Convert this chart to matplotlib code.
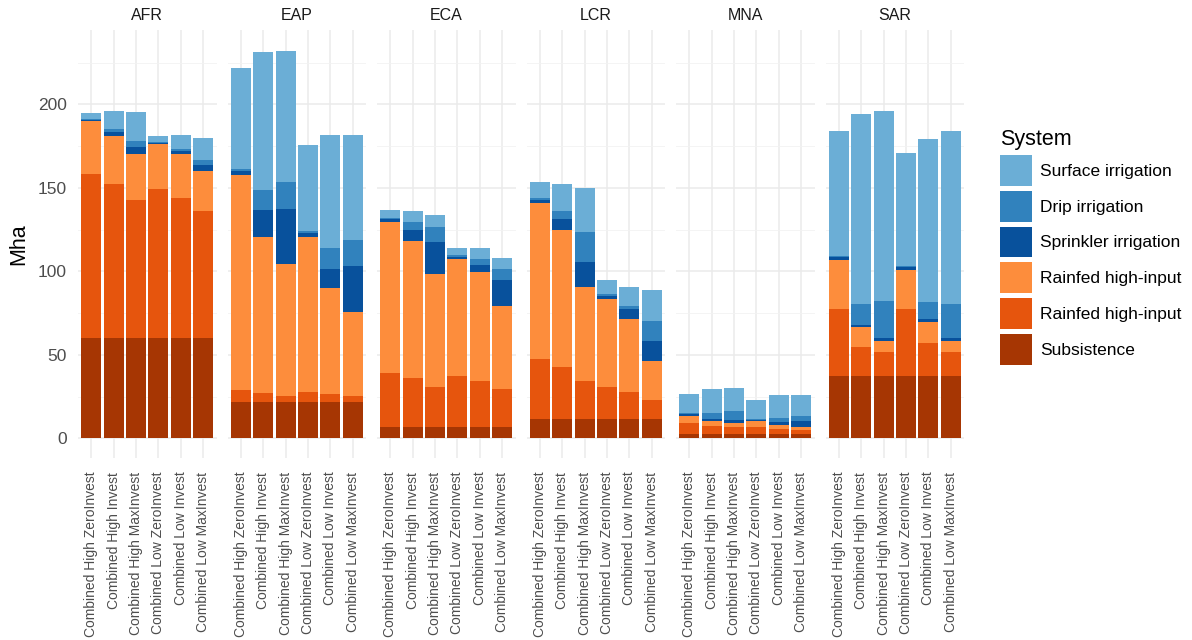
import matplotlib.pyplot as plt
from matplotlib.patches import Patch
from matplotlib.ticker import MultipleLocator
import numpy as np

plt.rcParams['font.family'] = ['Liberation Sans', 'DejaVu Sans']

regions = ['AFR', 'EAP', 'ECA', 'LCR', 'MNA', 'SAR']
scenarios = ['Combined High ZeroInvest', 'Combined High Invest', 'Combined High MaxInvest',
             'Combined Low ZeroInvest', 'Combined Low Invest', 'Combined Low MaxInvest']

# Mha per region (6 scenarios each), stacked bottom -> top
subsistence = {
    'AFR': [60, 60, 60, 60, 60, 60],
    'EAP': [21.8, 21.8, 21.8, 21.8, 21.8, 21.8],
    'ECA': [7, 7, 7, 7, 7, 7],
    'LCR': [11.8, 11.8, 11.8, 11.8, 11.8, 11.8],
    'MNA': [2.4, 2.4, 2.4, 2.4, 2.4, 2.4],
    'SAR': [37.3, 37.3, 37.3, 37.3, 37.3, 37.3],
}
rainfed_dark = {
    'AFR': [98, 92, 82.5, 89, 83.7, 76.3],
    'EAP': [7.3, 5.3, 3.5, 5.7, 4.7, 3.5],
    'ECA': [32.3, 28.9, 23.7, 30.1, 27.5, 22.5],
    'LCR': [35.7, 31.1, 22.7, 18.7, 16.1, 11],
    'MNA': [6.6, 5, 4.6, 4.2, 3, 2.6],
    'SAR': [40.3, 17.6, 14.4, 39.9, 20, 14.4],
}
rainfed_light = {
    'AFR': [32, 29, 27.5, 27, 26.8, 23.7],
    'EAP': [128.4, 93.3, 79.3, 93.1, 63.5, 50.5],
    'ECA': [90.2, 82.3, 67.5, 70.3, 65.1, 49.9],
    'LCR': [93.6, 81.9, 56.3, 53.1, 43.4, 23.7],
    'MNA': [4.4, 3.2, 2.4, 3.6, 2.4, 2],
    'SAR': [29.2, 11.6, 6.8, 23.4, 12.6, 6.8],
}
sprinkler = {
    'AFR': [0.6, 2.4, 4.6, 0.8, 1.6, 3.8],
    'EAP': [2.8, 16.4, 32.7, 2.2, 11.4, 27.3],
    'ECA': [1.8, 6.8, 19.4, 1.4, 4.2, 15.4],
    'LCR': [1.6, 6.6, 15, 1.8, 6, 11.8],
    'MNA': [1.4, 1.2, 1.6, 1, 2, 3.6],
    'SAR': [1.6, 1.6, 1.4, 1.8, 1.6, 1.8],
}
drip = {
    'AFR': [0.4, 1.6, 3.2, 0.6, 1, 2.8],
    'EAP': [1.2, 11.6, 16, 1.4, 12.6, 15.6],
    'ECA': [0.8, 4.6, 9.2, 0.8, 3.8, 6.6],
    'LCR': [1, 4.6, 18, 1, 2.2, 12.2],
    'MNA': [0.6, 3.6, 5.6, 0.6, 2.6, 2.8],
    'SAR': [0.8, 12.3, 22.4, 0.6, 10.2, 20.2],
}
surface = {
    'AFR': [3.5, 11, 17.6, 3.4, 8.3, 13.5],
    'EAP': [60.3, 82.7, 78.8, 51.4, 67.8, 63.1],
    'ECA': [4.4, 6.7, 6.9, 4.2, 6.2, 6.8],
    'LCR': [9.6, 16.3, 26.3, 8.2, 11.1, 18.3],
    'MNA': [11.1, 14.1, 13.5, 11, 13.3, 12.3],
    'SAR': [75, 113.8, 113.9, 67.7, 97.5, 103.7],
}

layers = [
    (subsistence, 'Subsistence', '#A63603'),
    (rainfed_dark, 'Rainfed high-input', '#E6550D'),
    (rainfed_light, 'Rainfed high-input', '#FD8D3C'),
    (sprinkler, 'Sprinkler irrigation', '#08519C'),
    (drip, 'Drip irrigation', '#3182BD'),
    (surface, 'Surface irrigation', '#6BAED6'),
]

W, H = 1192, 640
fig = plt.figure(figsize=(W / 100, H / 100), dpi=100)

panel_left = 78
panel_w = 138.5
panel_gap = 11
panel_top = 29.7
panel_bottom = 457.8

grid_major = '#EBEBEB'
x = np.arange(1, len(scenarios) + 1)

for i, reg in enumerate(regions):
    left = panel_left + i * (panel_w + panel_gap)
    ax = fig.add_axes([left / W, 1 - panel_bottom / H, panel_w / W, (panel_bottom - panel_top) / H])
    bottom = np.zeros(len(scenarios))
    for data, label, color in layers:
        vals = np.array(data[reg])
        ax.bar(x, vals, width=0.9, bottom=bottom, color=color, linewidth=0, zorder=3)
        bottom += vals

    ax.set_xlim(0.4, 6.6)
    ax.set_ylim(-11.65, 244.65)
    ax.yaxis.set_major_locator(MultipleLocator(50))
    ax.yaxis.set_minor_locator(MultipleLocator(25))
    ax.set_xticks(x)
    ax.set_xticklabels(scenarios, rotation=90, fontsize=10, color='#4D4D4D')
    ax.grid(True, which='major', color=grid_major, linewidth=1.1, zorder=0)
    ax.grid(True, which='minor', axis='y', color='#F2F2F2', linewidth=0.6, zorder=0)
    ax.tick_params(axis='both', which='both', length=0)
    ax.tick_params(axis='x', pad=10)
    for s in ax.spines.values():
        s.set_visible(False)
    if i == 0:
        ax.tick_params(axis='y', labelsize=12.5, labelcolor='#4D4D4D', pad=8)
        ax.set_ylabel('Mha', fontsize=15.5, color='black', labelpad=6)
    else:
        ax.set_yticklabels([])
    fig.text((left + panel_w / 2) / W, 1 - 15.5 / H, reg, ha='center', va='center',
             fontsize=11.5, color='#1A1A1A')

# legend, top to bottom as in the original
handles = [Patch(facecolor=c, edgecolor='none', label=l) for _, l, c in layers[::-1]]
leg = fig.legend(handles=handles, title='System', loc='upper left',
                 bbox_to_anchor=(993 / W, 1 - 122 / H), frameon=False,
                 fontsize=12.5, title_fontsize=15.5,
                 handleheight=2.35, handlelength=1.84, labelspacing=0.29,
                 handletextpad=0.45, borderaxespad=0)
leg._legend_box.align = 'left'

fig.savefig('out.png', dpi=100, facecolor='white')
